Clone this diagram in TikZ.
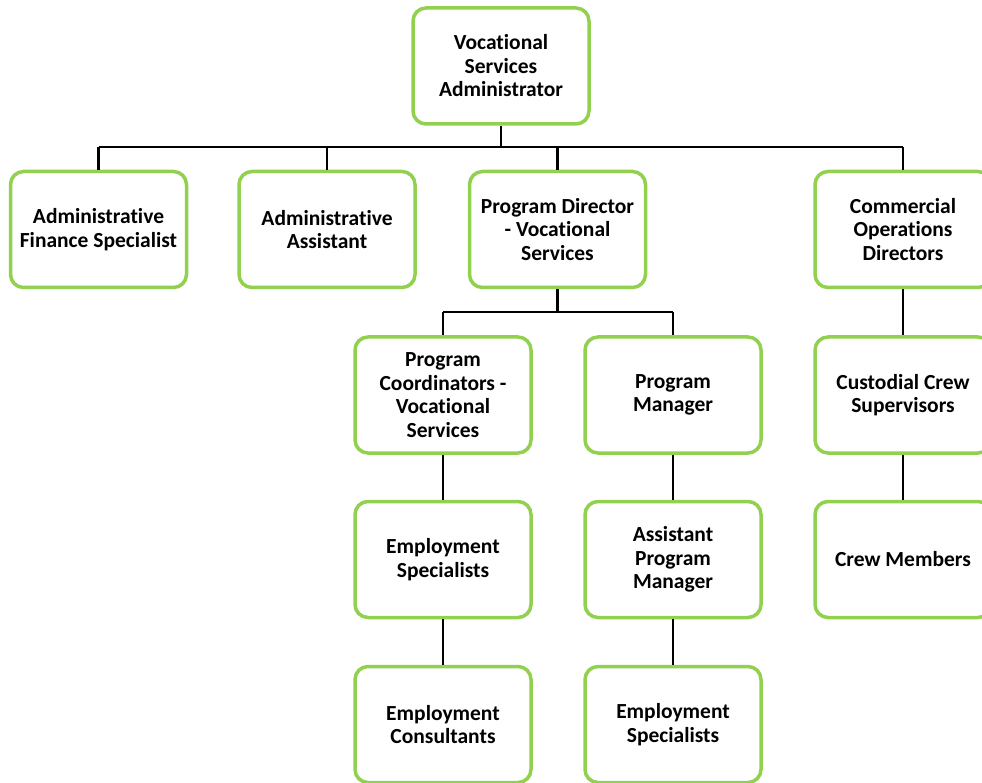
\documentclass[tikz,border=0pt]{standalone}
\usepackage{fontspec}
\setmainfont[Ligatures=NoCommon]{Carlito}
\definecolor{boxgreen}{RGB}{146,208,80}
\tikzset{
  orgbox/.style={draw=boxgreen, line width=3.5pt, rounded corners=13pt, fill=white,
    minimum width=176pt, minimum height=116pt, inner sep=0pt, align=center,
    font=\fontsize{21.5}{23.5}\selectfont\bfseries},
  conn/.style={draw=black, line width=2.5pt},
}
\begin{document}
\begin{tikzpicture}[x=1pt,y=-1pt]
\useasboundingbox (0,0) rectangle (982,783);
\clip (0,0) rectangle (982,783);
% nodes
\node[orgbox] (vsa) at (501,66) {Vocational\\Services\\Administrator};
\node[orgbox] (afs) at (98.5,229.5) {Administrative\\Finance Specialist};
\node[orgbox] (aa)  at (327,229.5) {Administrative\\Assistant};
\node[orgbox] (pd)  at (557.5,229.5) {Program Director\\- Vocational\\Services};
\node[orgbox] (cod) at (903,229.5) {Commercial\\Operations\\Directors};
\node[orgbox] (pc)  at (443,395) {Program\\Coordinators -\\Vocational\\Services};
\node[orgbox] (pm)  at (673,395) {Program\\Manager};
\node[orgbox] (ccs) at (903,395) {Custodial Crew\\Supervisors};
\node[orgbox] (es1) at (443,559.5) {Employment\\Specialists};
\node[orgbox] (apm) at (673,559.5) {Assistant\\Program\\Manager};
\node[orgbox] (cm)  at (903,559.5) {Crew Members};
\node[orgbox] (ec)  at (443,724.5) {Employment\\Consultants};
\node[orgbox] (es2) at (673,724.5) {Employment\\Specialists};
% bus coordinates
\coordinate (bus1) at (501,147);
\coordinate (bus2) at (558,312);
% connectors level 1
\draw[conn] (vsa.south) -- (bus1);
\draw[conn] (afs.north |- bus1) -- (cod.north |- bus1);
\draw[conn] (afs.north) -- (afs.north |- bus1);
\draw[conn] (aa.north) -- (aa.north |- bus1);
\draw[conn] (pd.north) -- (pd.north |- bus1);
\draw[conn] (cod.north) -- (cod.north |- bus1);
% level 2
\draw[conn] (pd.south) -- (pd.south |- bus2);
\draw[conn] (pc.north |- bus2) -- (pm.north |- bus2);
\draw[conn] (pc.north) -- (pc.north |- bus2);
\draw[conn] (pm.north) -- (pm.north |- bus2);
\draw[conn] (cod.south) -- (ccs.north);
% level 3
\draw[conn] (pc.south) -- (es1.north);
\draw[conn] (pm.south) -- (apm.north);
\draw[conn] (ccs.south) -- (cm.north);
% level 4
\draw[conn] (es1.south) -- (ec.north);
\draw[conn] (apm.south) -- (es2.north);
\end{tikzpicture}
\end{document}
